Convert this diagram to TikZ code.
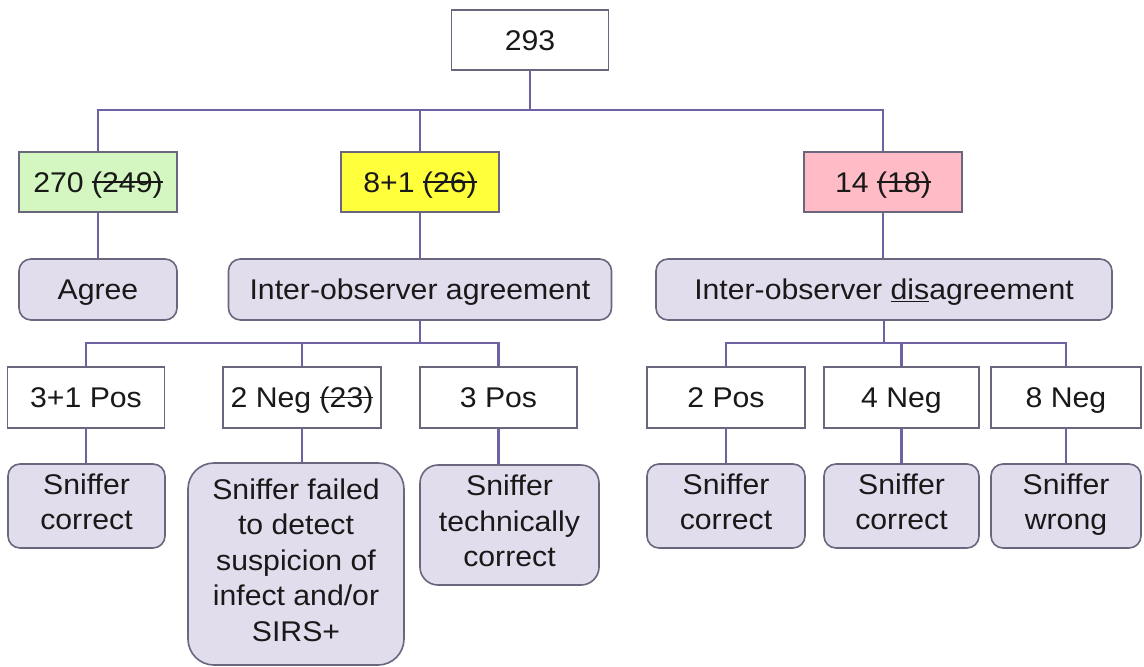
\documentclass[tikz,border=0pt]{standalone}
\usepackage{fontspec}
\setmainfont{Liberation Sans}[FakeStretch=1.06]
\definecolor{linkcol}{RGB}{112,98,162}
\definecolor{edgecol}{RGB}{105,102,125}
\definecolor{lav}{RGB}{226,221,236}
\definecolor{lgreen}{RGB}{212,246,192}
\definecolor{lyellow}{RGB}{255,255,60}
\definecolor{lpink}{RGB}{255,188,198}
\definecolor{ink}{RGB}{25,25,25}
% struck-through text
\newsavebox{\strkbox}
\newcommand{\strk}[1]{\sbox{\strkbox}{#1}\rlap{\rule[0.33em]{\wd\strkbox}{0.055em}}\usebox{\strkbox}}
% struts that centre capital letters vertically
\newcommand{\topstrut}{\rule{0pt}{28.5pt}}
\newcommand{\botstrut}{\rule[-8.5pt]{0pt}{8.5pt}}
\begin{document}
\begin{tikzpicture}[x=1pt,y=-1pt,
  every node/.style={font=\fontsize{28.5}{35.5}\selectfont, text=ink, align=center, inner sep=0pt,
    execute at begin node=\topstrut, execute at end node=\botstrut},
  sqbox/.style={draw=edgecol, line width=1.6pt, fill=white, minimum height=60pt},
  rbox/.style={draw=edgecol, line width=1.6pt, fill=lav, rounded corners=12pt},
  link/.style={draw=linkcol, line width=2.6pt}]
\useasboundingbox (0,0) rectangle (1144,667);

% top level
\node[sqbox, minimum width=157pt] (n293) at (530,40) {293};
\node[sqbox, fill=lgreen, minimum width=158pt] (g270) at (98,182) {270 \strk{(249)}};
\node[sqbox, fill=lyellow, minimum width=158pt] (y81) at (420,182) {8+1 \strk{(26)}};
\node[sqbox, fill=lpink, minimum width=158pt] (r14) at (883,182) {14 \strk{(18)}};

% second level
\node[rbox, minimum width=158pt, minimum height=61pt] (agree) at (98,289.5) {Agree};
\node[rbox, minimum width=383pt, minimum height=61pt] (ioa) at (420,289.5) {Inter-observer agreement};
\node[rbox, minimum width=456pt, minimum height=61pt] (iod) at (884,289.5) {Inter-observer \underline{dis}agreement};

% third level
\node[sqbox, minimum width=157pt, minimum height=61pt] (p31) at (86,397.5) {3+1 Pos};
\node[sqbox, minimum width=158pt, minimum height=61pt] (n2) at (302,397.5) {2 Neg \strk{(23)}};
\node[sqbox, minimum width=157pt, minimum height=61pt] (p3) at (498.5,397.5) {3 Pos};
\node[sqbox, minimum width=158pt, minimum height=61pt] (p2) at (726,397.5) {2 Pos};
\node[sqbox, minimum width=155pt, minimum height=61pt] (n4) at (901.5,397.5) {4 Neg};
\node[sqbox, minimum width=150pt, minimum height=61pt] (n8) at (1066,397.5) {8 Neg};

% outcomes
\node[rbox, minimum width=157pt, minimum height=84pt] (sc1) at (86.5,506) {Sniffer\\correct};
\node[rbox, rounded corners=26pt, minimum width=216pt, minimum height=202pt] (sf) at (296,564) {Sniffer failed\\to detect\\suspicion of\\infect and/or\\SIRS+};
\node[rbox, rounded corners=18pt, minimum width=179pt, minimum height=120pt] (stc) at (509.5,525) {Sniffer\\technically\\correct};
\node[rbox, minimum width=158pt, minimum height=84pt] (sc2) at (726,506) {Sniffer\\correct};
\node[rbox, minimum width=155pt, minimum height=84pt] (sc3) at (901.5,506) {Sniffer\\correct};
\node[rbox, minimum width=150pt, minimum height=84pt] (sw) at (1066,506) {Sniffer\\wrong};

% connectors
\coordinate (h1) at (530,110);
\coordinate (h2) at (420,343);
\coordinate (h3) at (884,343);

\path[link] (n293.south) -- (h1);
\path[link] (g270.north) |- (h1) -| (r14.north);
\path[link] (y81.north) -- (y81.north |- h1);

\path[link] (g270.south) -- (agree.north);
\path[link] (y81.south) -- (ioa.north);
\path[link] (r14.south) -- (r14.south |- iod.north);

\path[link] (ioa.south) -- (h2);
\path[link] (p31.north) |- (h2) -| (p3.north);
\path[link] (n2.north) -- (n2.north |- h2);

\path[link] (iod.south) -- (h3);
\path[link] (p2.north) |- (h3) -| (n8.north);
\path[link] (n4.north) -- (n4.north |- h3);

\path[link] (p31.south) -- (p31.south |- sc1.north);
\path[link] (n2.south) -- (n2.south |- sf.north);
\path[link] (p3.south) -- (p3.south |- stc.north);
\path[link] (p2.south) -- (sc2.north);
\path[link] (n4.south) -- (sc3.north);
\path[link] (n8.south) -- (sw.north);
\end{tikzpicture}
\end{document}
